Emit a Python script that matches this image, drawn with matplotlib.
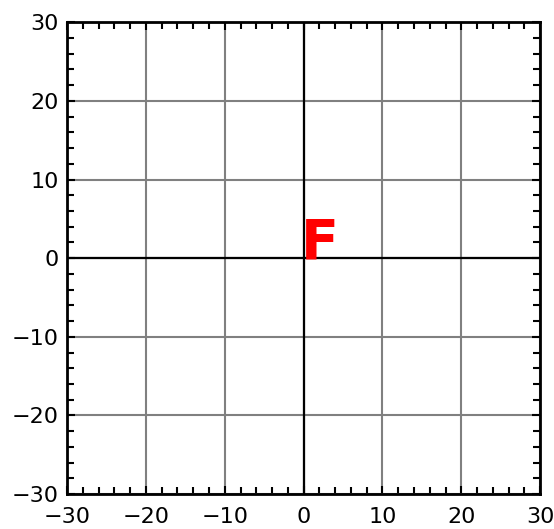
import numpy as np
import matplotlib
matplotlib.use('Agg')
import matplotlib.pyplot as plt
from matplotlib.ticker import MultipleLocator

# data
limits = [-30, 30]
major_ticks = [-30, -20, -10, 0, 10, 20, 30]
letter = 'F'
letter_pos = (-0.3, 0)

fig = plt.figure(figsize=(5.54, 5.29), dpi=100)
ax = fig.add_axes([0.121, 0.066, 0.854, 0.892])

ax.set_xlim(limits)
ax.set_ylim(limits)
ax.set_xticks(major_ticks)
ax.set_yticks(major_ticks)
ax.xaxis.set_minor_locator(MultipleLocator(2))
ax.yaxis.set_minor_locator(MultipleLocator(2))
ax.tick_params(which='both', direction='in', top=True, right=True, width=1.5, labelsize=16)
ax.tick_params(which='major', length=6, pad=6)
ax.tick_params(which='minor', length=5)
ax.tick_params(axis='x', pad=9)

ax.grid(True, color='#808080', linewidth=1.5)
ax.axhline(0, color='black', linewidth=1.6)
ax.axvline(0, color='black', linewidth=1.6)
for s in ax.spines.values():
    s.set_linewidth(2)

ax.text(letter_pos[0], letter_pos[1], letter, color='red', fontsize=40,
        fontweight='bold', ha='left', va='baseline')

fig.savefig('out.png', dpi=100)
